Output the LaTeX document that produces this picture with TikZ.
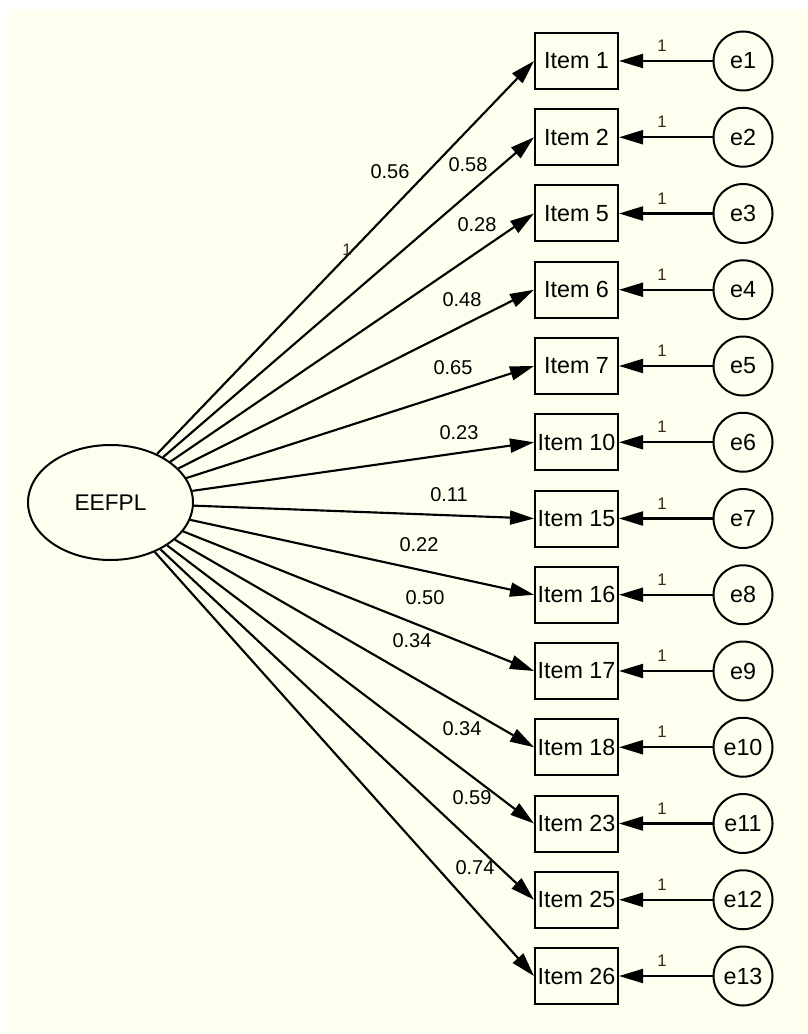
\documentclass[tikz,border=0pt]{standalone}
\usepackage{fontspec}
\setmainfont{Liberation Sans}
\usetikzlibrary{shapes.geometric,arrows.meta}
\definecolor{cream}{RGB}{255,255,240}
\tikzset{
  px/.style={x=0.75pt,y=-0.75pt},
  latent/.style={ellipse,draw,line width=1.5pt,minimum width=123.75pt,minimum height=86.25pt,inner sep=0pt,font=\fontsize{17}{19}\selectfont},
  obs/.style={rectangle,draw,line width=1.5pt,minimum width=62.25pt,minimum height=42pt,inner sep=0pt,font=\fontsize{17.5}{19}\selectfont},
  err/.style={circle,draw,line width=1.5pt,minimum size=44.25pt,inner sep=0pt,font=\fontsize{17.5}{19}\selectfont},
  path/.style={line width=1.6pt,-{Triangle[length=18pt,width=10.5pt]}},
  wlabel/.style={font=\fontsize{15}{17}\selectfont,inner sep=0pt},
  onelabel/.style={font=\fontsize{12.5}{14}\selectfont,inner sep=0pt,text=black!70!brown},
}
\begin{document}
\begin{tikzpicture}[px]
\fill[white] (0,0) rectangle (807,1034);
\fill[cream] (8,9) rectangle (807,1034);
\useasboundingbox (0,0) rectangle (807,1034);
\node[latent] (F) at (110.5,502.5) {EEFPL};
\foreach \it/\e [count=\i from 0] in {1/1,2/2,5/3,6/4,7/5,10/6,15/7,16/8,17/9,18/10,23/11,25/12,26/13}{
  \pgfmathsetmacro{\yy}{61+76.25*\i}
  \node[obs] (I\it) at (576.5,\yy) {Item \it};
  \node[err] (e\e) at (743,\yy) {e\e};
  \draw[path] (e\e) -- (I\it.east);
  \node[onelabel] (one\e) at (662,\yy-15) {1};
  \draw[path] (F) -- (I\it.west);
}
\node[wlabel] (w1) at (390,172) {0.56};
\node[onelabel] (c1) at (347,250) {1};
\node[wlabel] (w2) at (468,165) {0.58};
\node[wlabel] (w5) at (477,225) {0.28};
\node[wlabel] (w6) at (462,300) {0.48};
\node[wlabel] (w7) at (453,368) {0.65};
\node[wlabel] (w10) at (459,433) {0.23};
\node[wlabel] (w15) at (449,495) {0.11};
\node[wlabel] (w16) at (419,545) {0.22};
\node[wlabel] (w17) at (425,598) {0.50};
\node[wlabel] (w18) at (412,641) {0.34};
\node[wlabel] (w23) at (462,729) {0.34};
\node[wlabel] (w25) at (472,798) {0.59};
\node[wlabel] (w26) at (475,868) {0.74};
\end{tikzpicture}
\end{document}
